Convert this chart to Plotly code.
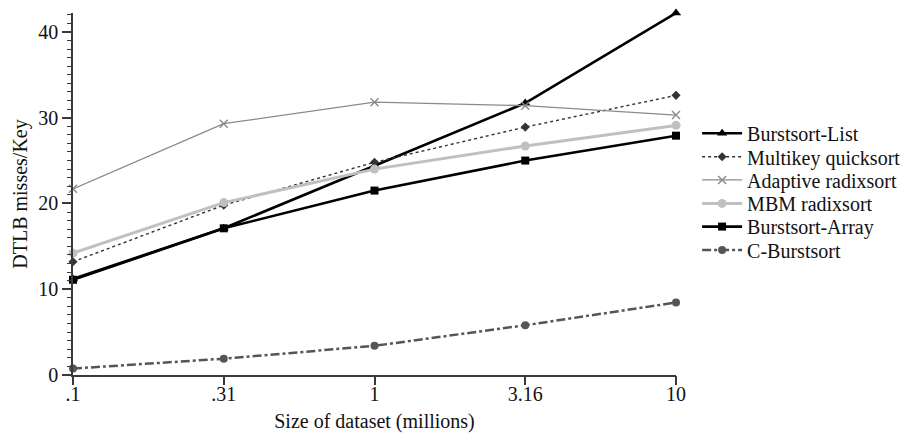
import plotly.graph_objects as go

x_labels = [".1", ".31", "1", "3.16", "10"]
x_pos = [0, 1, 2, 3, 4]

burst_list = [11.2, 17.1, 24.4, 31.7, 42.2]
multikey = [13.2, 19.8, 24.8, 28.9, 32.6]
adaptive = [21.7, 29.3, 31.8, 31.4, 30.3]
mbm = [14.2, 20.1, 24.0, 26.7, 29.1]
burst_array = [11.1, 17.1, 21.5, 25.0, 27.9]
c_burst = [0.75, 1.9, 3.4, 5.8, 8.45]

FONT = "Liberation Serif"
TXT = "#111111"
AX = "#3a3a3a"
FS = 20
YR = [0, 42.2]
XR = [0, 4]

fig = go.Figure()

legend_y = [0.668, 0.603, 0.539, 0.474, 0.410, 0.345]

def add(i, name, y, color, width, dash, symbol, msize, mline=None):
    marker = dict(symbol=symbol, size=msize, color=color)
    if mline:
        marker["line"] = dict(color=color, width=mline)
    lg = "legend" if i == 0 else f"legend{i+1}"
    fig.add_trace(go.Scatter(
        x=x_pos, y=y, name=name, mode="lines+markers",
        line=dict(color=color, width=width, dash=dash),
        marker=marker, cliponaxis=False, legend=lg,
    ))

add(0, "Burstsort-List", burst_list, "#000000", 2.6, "solid", "triangle-up", 9)
add(1, "Multikey quicksort", multikey, "#333333", 1.4, "dot", "diamond", 7)
add(2, "Adaptive radixsort", adaptive, "#8a8a8a", 1.3, "solid", "x-thin", 8, 1.4)
add(3, "MBM radixsort", mbm, "#c0c0c0", 3, "solid", "circle", 9)
add(4, "Burstsort-Array", burst_array, "#000000", 2.6, "solid", "square", 8)
add(5, "C-Burstsort", c_burst, "#555555", 2.5, "dashdot", "circle", 8)

# helper trace (invisible markers) so the tick-only overlay axes render
fig.add_trace(go.Scatter(x=x_pos, y=c_burst, mode="markers", xaxis="x2", yaxis="y2",
                         marker=dict(opacity=0, size=1), showlegend=False, hoverinfo="skip"))

legends = {}
for i, ly in enumerate(legend_y):
    key = "legend" if i == 0 else f"legend{i+1}"
    legends[key] = dict(
        x=1.035, xanchor="left", y=ly, yanchor="middle",
        font=dict(family=FONT, size=FS, color=TXT),
        bgcolor="rgba(0,0,0,0)", itemwidth=40, borderwidth=0,
    )

fig.update_layout(
    width=904, height=433,
    margin=dict(l=73, r=228, t=13, b=58, autoexpand=False),
    plot_bgcolor="white", paper_bgcolor="white",
    font=dict(family=FONT, size=FS, color=TXT),
    showlegend=True,
    **legends,
    xaxis=dict(
        range=XR, tickmode="array", tickvals=x_pos, ticktext=x_labels,
        showgrid=False, zeroline=False, showline=True, linecolor=AX,
        linewidth=1.5, ticks="",
        title=dict(text="Size of dataset (millions)", font=dict(family=FONT, size=FS, color=TXT), standoff=12),
        tickfont=dict(family=FONT, size=FS, color=TXT),
    ),
    xaxis2=dict(
        range=XR, overlaying="x", anchor="y", side="bottom", visible=True,
        tickmode="array", tickvals=x_pos, showticklabels=False,
        showgrid=False, zeroline=False, showline=False,
        ticks="outside", ticklen=9, tickwidth=1.5, tickcolor=AX,
    ),
    yaxis=dict(
        range=YR, tickmode="linear", tick0=0, dtick=10,
        showgrid=False, zeroline=False, showline=True, linecolor=AX,
        linewidth=1.5, ticks="outside", ticklen=9, tickwidth=1.5, tickcolor=AX,
        title=dict(text="DTLB misses/Key", font=dict(family=FONT, size=FS, color=TXT), standoff=5),
        tickfont=dict(family=FONT, size=FS, color=TXT),
    ),
    yaxis2=dict(
        range=YR, overlaying="y", anchor="x", side="left", visible=True,
        tickmode="linear", tick0=0, dtick=1, showticklabels=False,
        showgrid=False, zeroline=False, showline=False,
        ticks="outside", ticklen=5, tickwidth=1.2, tickcolor=AX,
    ),
)

fig.write_html("out.html")
